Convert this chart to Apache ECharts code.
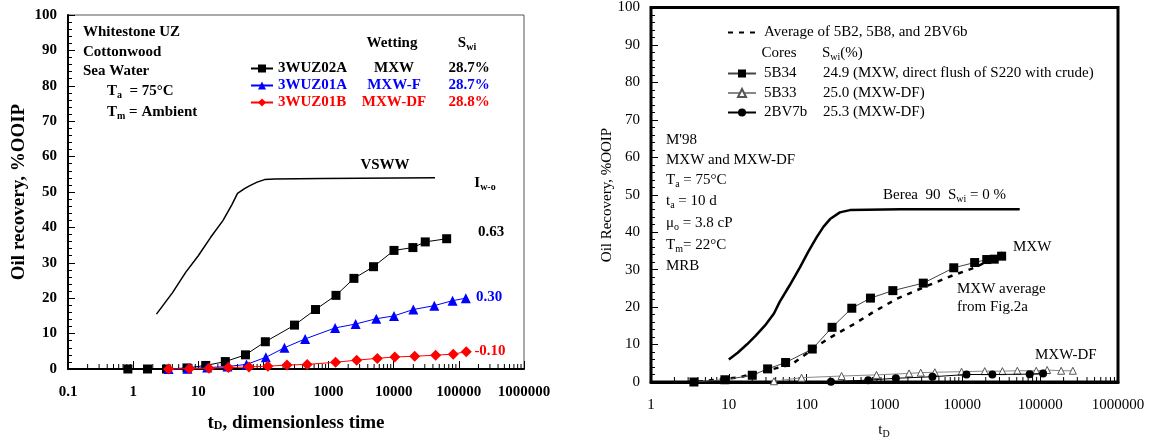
<!DOCTYPE html>
<html>
<head>
<meta charset="utf-8">
<script src="https://cdn.jsdelivr.net/npm/echarts@6/dist/echarts.min.js"></script>
<style>
  html, body { margin: 0; padding: 0; background: #fff; }
  #chart { width: 1150px; height: 437px; }
</style>
</head>
<body>
<div id="chart"></div>
<script>
// ---- left panel: Whitestone UZ, sea water ----
const vswwTime = [2.28, 4, 6.4, 10, 15.5, 24, 33, 40, 52, 62, 80, 104, 150, 800, 43000];
const vswwRec = [15.5, 21.5, 27.3, 32, 37.2, 42, 46.5, 49.6, 51, 51.8, 52.8, 53.5, 53.7, 53.8, 54];

const uz02aTime = [0.83, 1.66, 3.25, 6.7, 13, 26, 53, 107, 300, 630, 1300, 2450, 4900, 10100, 19700, 30500, 65000];
const uz02aRec = [0, 0, 0, 0.3, 1.0, 2.1, 4.0, 7.7, 12.4, 16.8, 20.8, 25.6, 28.9, 33.5, 34.3, 35.9, 36.8];

const uz01aTime = [3.5, 6.8, 13.7, 28, 55, 109, 210, 437, 1260, 2600, 5400, 10100, 20000, 42000, 80000, 128000];
const uz01aRec = [0, 0.1, 0.4, 0.7, 1.3, 3.3, 6.0, 8.5, 11.6, 12.7, 14.2, 15.0, 16.8, 17.9, 19.3, 20.0];

const uz01bTime = [3.5, 7.3, 14.6, 29, 60, 117, 230, 470, 1280, 2700, 5600, 10400, 21000, 44000, 82000, 130000];
const uz01bRec = [0, 0.1, 0.2, 0.4, 0.6, 0.8, 1.1, 1.3, 1.9, 2.5, 3.0, 3.4, 3.6, 3.9, 4.2, 4.9];

const leftCores = ['3WUZ02A', '3WUZ01A', '3WUZ01B'];
const leftWetting = ['MXW', 'MXW-F', 'MXW-DF'];
const leftSwi = ['28.7%', '28.7%', '28.8%'];
const leftColors = ['#000000', '#0000ff', '#ff0000'];

// ---- right panel: M'98 Berea / MRB ----
const bereaTime = [10, 13, 17, 22, 30, 38, 45, 60, 82, 105, 134, 165, 200, 267, 360, 1600, 54600];
const bereaRec = [6.0, 7.8, 10.0, 12.3, 15.4, 18.3, 21.4, 25.7, 30.6, 34.8, 38.6, 41.5, 43.5, 45.3, 45.9, 46.1, 46.1];

const avgTime = [4, 7.7, 14, 25, 64, 115, 190, 400, 710, 1430, 3460, 7600, 15200, 37000];
const avgRec = [0.1, 0.7, 1.3, 2.6, 4.7, 8.5, 11.6, 15.4, 18.6, 22.2, 25.6, 28.5, 30.7, 35.2];

const b34Time = [3.56, 8.9, 20, 31.5, 53.6, 118, 212, 380, 660, 1280, 3150, 7760, 14400, 20600, 25700, 32000];
const b34Rec = [0, 0.6, 1.8, 3.5, 5.2, 8.8, 14.6, 19.7, 22.4, 24.4, 26.4, 30.5, 31.9, 32.7, 32.8, 33.6];

const b33Time = [38, 86, 281, 789, 2070, 2920, 4430, 9770, 19400, 32700, 50900, 89000, 123000, 186000, 263000];
const b33Rec = [0.2, 1.15, 1.6, 1.9, 2.3, 2.5, 2.6, 2.75, 2.9, 2.9, 3.0, 3.0, 3.2, 3.0, 3.0];

const bv7Time = [205, 617, 1400, 4130, 11300, 24300, 73300, 109000];
const bv7Rec = [0.1, 0.5, 1.0, 1.4, 2.0, 2.0, 2.1, 2.3];

const rightCores = ['5B34', '5B33', '2BV7b'];
const rightSwi = ['24.9 (MXW, direct flush of S220 with crude)', '25.0 (MXW-DF)', '25.3 (MXW-DF)'];
const avgName = 'Average of 5B2, 5B8, and 2BV6b';

const SERIF = '"Liberation Serif", "Times New Roman", serif';

function pairs(t, r) {
  return t.map((v, i) => [v, r[i]]);
}

// log-axis minor ticks (2..9 in every decade)
function minorTicks(loExp, hiExp) {
  const out = [];
  for (let e = loExp; e < hiExp; e++) {
    for (let m = 2; m <= 9; m++) out.push([m * Math.pow(10, e), 0]);
  }
  return out;
}

function tickSeries(idx, loExp, hiExp, len) {
  return {
    type: 'custom',
    xAxisIndex: idx,
    yAxisIndex: idx,
    silent: true,
    z: 1,
    data: minorTicks(loExp, hiExp),
    renderItem: function (params, api) {
      const p = api.coord([api.value(0), 0]);
      return {
        type: 'line',
        shape: { x1: p[0], y1: p[1], x2: p[0], y2: p[1] - len },
        style: { stroke: '#000', lineWidth: 1 }
      };
    }
  };
}

function richSet(size, weight, color) {
  return {
    b: { fontFamily: SERIF, fontSize: size, fontWeight: weight, color: color, lineHeight: 18 },
    s: { fontFamily: SERIF, fontSize: Math.round(size * 0.65), fontWeight: weight, color: color, lineHeight: 10, verticalAlign: 'bottom' }
  };
}

function txt(x, y, text, o) {
  o = o || {};
  const size = o.size || 15;
  const weight = o.weight || 'normal';
  const color = o.color || '#000';
  return {
    type: 'text',
    x: x,
    y: y,
    rotation: o.rot || 0,
    z: 10,
    style: {
      text: text,
      align: o.align || 'left',
      verticalAlign: 'middle',
      font: weight + ' ' + size + 'px ' + SERIF,
      fill: color,
      rich: richSet(size, weight, color)
    }
  };
}

function logLabel(v) {
  return v < 1 ? String(+v.toPrecision(1)) : String(Math.round(v));
}

const leftRich = {};
leftColors.forEach((c, i) => {
  const base = { fontFamily: SERIF, fontSize: 15, fontWeight: 'bold', color: c };
  leftRich['n' + i] = Object.assign({ width: 80 }, base);
  leftRich['w' + i] = Object.assign({ width: 72, align: 'center' }, base);
  leftRich['s' + i] = Object.assign({ width: 78, align: 'center' }, base);
});

const option = {
  backgroundColor: '#ffffff',
  animation: false,
  grid: [
    { left: 68, top: 15, width: 456, height: 354, show: true, borderColor: '#555', borderWidth: 1, containLabel: false },
    { left: 651, top: 7, width: 467, height: 375, show: true, borderColor: '#000', borderWidth: 3, containLabel: false }
  ],
  xAxis: [
    {
      type: 'log', gridIndex: 0, logBase: 10, min: 0.1, max: 1000000, splitNumber: 7,
      axisLine: { lineStyle: { color: '#000', width: 2 } },
      axisTick: { inside: true, length: 8, lineStyle: { color: '#000' } },
      axisLabel: { margin: 16, color: '#000', fontFamily: SERIF, fontSize: 15, fontWeight: 'bold', formatter: logLabel },
      splitLine: { show: false }
    },
    {
      type: 'log', gridIndex: 1, logBase: 10, min: 1, max: 1000000, splitNumber: 6,
      axisLine: { lineStyle: { color: '#000', width: 3 } },
      axisTick: { inside: true, length: 8, lineStyle: { color: '#000' } },
      axisLabel: { margin: 16, color: '#000', fontFamily: SERIF, fontSize: 15, formatter: logLabel },
      splitLine: { show: false }
    }
  ],
  yAxis: [
    {
      type: 'value', gridIndex: 0, min: 0, max: 100, interval: 10,
      axisLine: { show: true, lineStyle: { color: '#000', width: 2 } },
      axisTick: { inside: true, length: 7, lineStyle: { color: '#000' } },
      minorTick: { show: true, splitNumber: 5, length: 4, lineStyle: { color: '#000' } },
      axisLabel: { margin: 11, color: '#000', fontFamily: SERIF, fontSize: 15, fontWeight: 'bold' },
      splitLine: { show: false }
    },
    {
      type: 'value', gridIndex: 1, min: 0, max: 100, interval: 10,
      axisLine: { show: true, lineStyle: { color: '#000', width: 2 } },
      axisTick: { inside: true, length: 7, lineStyle: { color: '#000' } },
      minorTick: { show: true, splitNumber: 5, length: 4, lineStyle: { color: '#000' } },
      axisLabel: { margin: 11, color: '#000', fontFamily: SERIF, fontSize: 15 },
      splitLine: { show: false }
    }
  ],
  legend: [
    {
      left: 250, top: 61, orient: 'vertical', padding: 0, itemGap: 2,
      itemWidth: 22, itemHeight: 10, selectedMode: false,
      data: leftCores,
      formatter: function (name) {
        const i = leftCores.indexOf(name);
        return '{n' + i + '|' + name + '}{w' + i + '|' + leftWetting[i] + '}{s' + i + '|' + leftSwi[i] + '}';
      },
      textStyle: { rich: leftRich }
    },
    {
      left: 727, top: 25, orient: 'vertical', padding: 0,
      itemWidth: 28, itemHeight: 10, selectedMode: false,
      itemStyle: { opacity: 0 },
      data: [avgName],
      textStyle: { fontFamily: SERIF, fontSize: 15, color: '#000', padding: [0, 0, 0, 3] }
    },
    {
      left: 727, top: 66, orient: 'vertical', padding: 0, itemGap: 4.5,
      itemWidth: 28, itemHeight: 10, selectedMode: false,
      data: rightCores,
      formatter: function (name) {
        const i = rightCores.indexOf(name);
        return '{n|' + name + '}{v|' + rightSwi[i] + '}';
      },
      textStyle: {
        padding: [0, 0, 0, 3],
        rich: {
          n: { fontFamily: SERIF, fontSize: 15, color: '#000', width: 59 },
          v: { fontFamily: SERIF, fontSize: 15, color: '#000' }
        }
      }
    }
  ],
  series: [
    tickSeries(0, -1, 6, 5),
    tickSeries(1, 0, 6, 5),
    {
      name: 'VSWW', type: 'line', xAxisIndex: 0, yAxisIndex: 0,
      data: pairs(vswwTime, vswwRec), symbol: 'none',
      lineStyle: { color: '#000', width: 1.5 }, clip: false
    },
    {
      name: leftCores[0], type: 'line', xAxisIndex: 0, yAxisIndex: 0,
      data: pairs(uz02aTime, uz02aRec), symbol: 'rect', symbolSize: 9,
      itemStyle: { color: leftColors[0] }, lineStyle: { color: leftColors[0], width: 1 }, clip: false, z: 4
    },
    {
      name: leftCores[1], type: 'line', xAxisIndex: 0, yAxisIndex: 0,
      data: pairs(uz01aTime, uz01aRec), symbol: 'triangle', symbolSize: 10,
      itemStyle: { color: leftColors[1] }, lineStyle: { color: leftColors[1], width: 1 }, clip: false, z: 5
    },
    {
      name: leftCores[2], type: 'line', xAxisIndex: 0, yAxisIndex: 0,
      data: pairs(uz01bTime, uz01bRec), symbol: 'diamond', symbolSize: 11,
      itemStyle: { color: leftColors[2] }, lineStyle: { color: leftColors[2], width: 1 }, clip: false, z: 6
    },
    {
      name: 'Berea 90', type: 'line', xAxisIndex: 1, yAxisIndex: 1,
      data: pairs(bereaTime, bereaRec), symbol: 'none',
      lineStyle: { color: '#000', width: 2.5 }, clip: false
    },
    {
      name: avgName, type: 'line', xAxisIndex: 1, yAxisIndex: 1,
      data: pairs(avgTime, avgRec), symbol: 'none',
      itemStyle: { color: '#000' },
      lineStyle: { color: '#000', width: 2.5, type: [5, 6] }, clip: false
    },
    {
      name: rightCores[1], type: 'line', xAxisIndex: 1, yAxisIndex: 1,
      data: pairs(b33Time, b33Rec), symbol: 'triangle', symbolSize: 7,
      itemStyle: { color: '#ffffff', borderColor: '#555', borderWidth: 1 },
      lineStyle: { color: '#888', width: 1 }, clip: false, z: 4
    },
    {
      name: rightCores[2], type: 'line', xAxisIndex: 1, yAxisIndex: 1,
      data: pairs(bv7Time, bv7Rec), symbol: 'circle', symbolSize: 8,
      itemStyle: { color: '#000' }, lineStyle: { color: '#000', width: 1 }, clip: false, z: 5
    },
    {
      name: rightCores[0], type: 'line', xAxisIndex: 1, yAxisIndex: 1,
      data: pairs(b34Time, b34Rec), symbol: 'rect', symbolSize: 9,
      itemStyle: { color: '#000' }, lineStyle: { color: '#444', width: 1 }, clip: false, z: 6
    }
  ],
  graphic: [
    // left panel annotations
    txt(83, 32, 'Whitestone UZ', { weight: 'bold' }),
    txt(83, 52, 'Cottonwood', { weight: 'bold' }),
    txt(83, 71, 'Sea Water', { weight: 'bold' }),
    txt(107, 91, '{b|T}{s|a}{b|  = 75°C}', { weight: 'bold' }),
    txt(107, 112, '{b|T}{s|m}{b| = Ambient}', { weight: 'bold' }),
    txt(392, 43, 'Wetting', { weight: 'bold', align: 'center' }),
    txt(467, 43, '{b|S}{s|wi}', { weight: 'bold', align: 'center' }),
    txt(385, 165, 'VSWW', { weight: 'bold', align: 'center' }),
    txt(485, 183, '{b|I}{s|w-o}', { weight: 'bold', align: 'center' }),
    txt(491, 232, '0.63', { weight: 'bold', align: 'center', color: leftColors[0] }),
    txt(489, 297, '0.30', { weight: 'bold', align: 'center', color: leftColors[1] }),
    txt(490, 351, '-0.10', { weight: 'bold', align: 'center', color: leftColors[2] }),
    txt(19, 192, 'Oil recovery, %OOIP', { weight: 'bold', size: 19, align: 'center', rot: Math.PI / 2 }),
    txt(296, 423, '{b|t}{s|D}{b|, dimensionless time}', { weight: 'bold', size: 19, align: 'center' }),
    // right panel annotations
    txt(779, 53, 'Cores', { align: 'center' }),
    txt(822, 53, '{b|S}{s|wi}{b|(%)}'),
    txt(666, 140, "M'98"),
    txt(666, 160, 'MXW and MXW-DF'),
    txt(666, 180, '{b|T}{s|a}{b| = 75°C}'),
    txt(666, 201, '{b|t}{s|a}{b| = 10 d}'),
    txt(666, 223, '{b|μ}{s|o}{b| = 3.8 cP}'),
    txt(666, 245, '{b|T}{s|m}{b|= 22°C}'),
    txt(666, 266, 'MRB'),
    txt(883, 195, '{b|Berea  90  S}{s|wi}{b| = 0 %}'),
    txt(1013, 247, 'MXW'),
    txt(957, 289, 'MXW average'),
    txt(957, 307, 'from Fig.2a'),
    txt(1035, 355, 'MXW-DF'),
    txt(607, 195, 'Oil Recovery, %OOIP', { align: 'center', rot: Math.PI / 2 }),
    txt(884, 430, '{b|t}{s|D}', { align: 'center' })
  ]
};

const chart = echarts.init(document.getElementById('chart'));
chart.setOption(option);
</script>
</body>
</html>
